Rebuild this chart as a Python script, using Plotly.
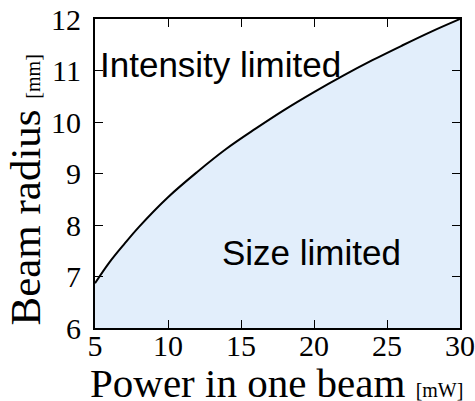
import plotly.graph_objects as go

power_mw = [5, 6, 7, 8, 10, 12, 14, 16, 18, 20, 22, 24, 26, 28, 30]
radius_mm = [6.87, 7.28, 7.63, 7.96, 8.54, 9.03, 9.48, 9.87, 10.24, 10.58, 10.90, 11.20, 11.48, 11.75, 12.0]

x_ticks = [5, 10, 15, 20, 25, 30]
y_ticks = [6, 7, 8, 9, 10, 11, 12]

SERIF = "Liberation Serif, Times New Roman, serif"
SANS = "Liberation Sans, Arial, sans-serif"

fig = go.Figure()
fig.add_trace(go.Scatter(
    x=power_mw, y=radius_mm, mode="lines",
    line=dict(color="black", width=2, shape="spline"),
    fill="tozeroy", fillcolor="#e2eefb", hoverinfo="skip", showlegend=False,
))

axis_common = dict(
    showgrid=False, zeroline=False, showline=True, linecolor="black", linewidth=2,
    mirror="allticks", ticks="inside", ticklen=8, tickwidth=1, tickcolor="black",
    tickfont=dict(family=SERIF, size=30, color="black"), automargin=False,
)

fig.update_xaxes(range=[5, 30], tickvals=x_ticks, ticktext=[str(v) for v in x_ticks],
                 ticklabelstandoff=-10, **axis_common)
fig.update_yaxes(range=[6, 12], tickvals=y_ticks, ticktext=[str(v) for v in y_ticks],
                 ticklabelstandoff=6, **axis_common)

fig.add_annotation(x=0.496, y=-0.178, xref="paper", yref="paper",
                   text="Power in one beam <span style='font-size:20px'>[mW]</span>",
                   showarrow=False, xanchor="center", yanchor="middle",
                   font=dict(family=SERIF, size=41, color="black"))
fig.add_annotation(x=-0.19, y=0.447, xref="paper", yref="paper",
                   text="Beam radius <span style='font-size:20px'>[mm]</span>",
                   textangle=-90, showarrow=False, xanchor="center", yanchor="middle",
                   font=dict(family=SERIF, size=43, color="black"))

fig.add_annotation(x=5.2, y=11.12, xref="x", yref="y", text="Intensity limited",
                   showarrow=False, xanchor="left", yanchor="middle",
                   font=dict(family=SANS, size=35, color="black"))
fig.add_annotation(x=19.8, y=7.47, xref="x", yref="y", text="Size limited",
                   showarrow=False, xanchor="center", yanchor="middle",
                   font=dict(family=SANS, size=35, color="black"))

fig.update_layout(
    width=475, height=401,
    margin=dict(l=95, r=15, t=19, b=73),
    paper_bgcolor="white", plot_bgcolor="white",
)

fig.write_html("out.html", config={"displayModeBar": False},
               post_script="document.body.style.margin='0';document.body.style.overflow='hidden';")
